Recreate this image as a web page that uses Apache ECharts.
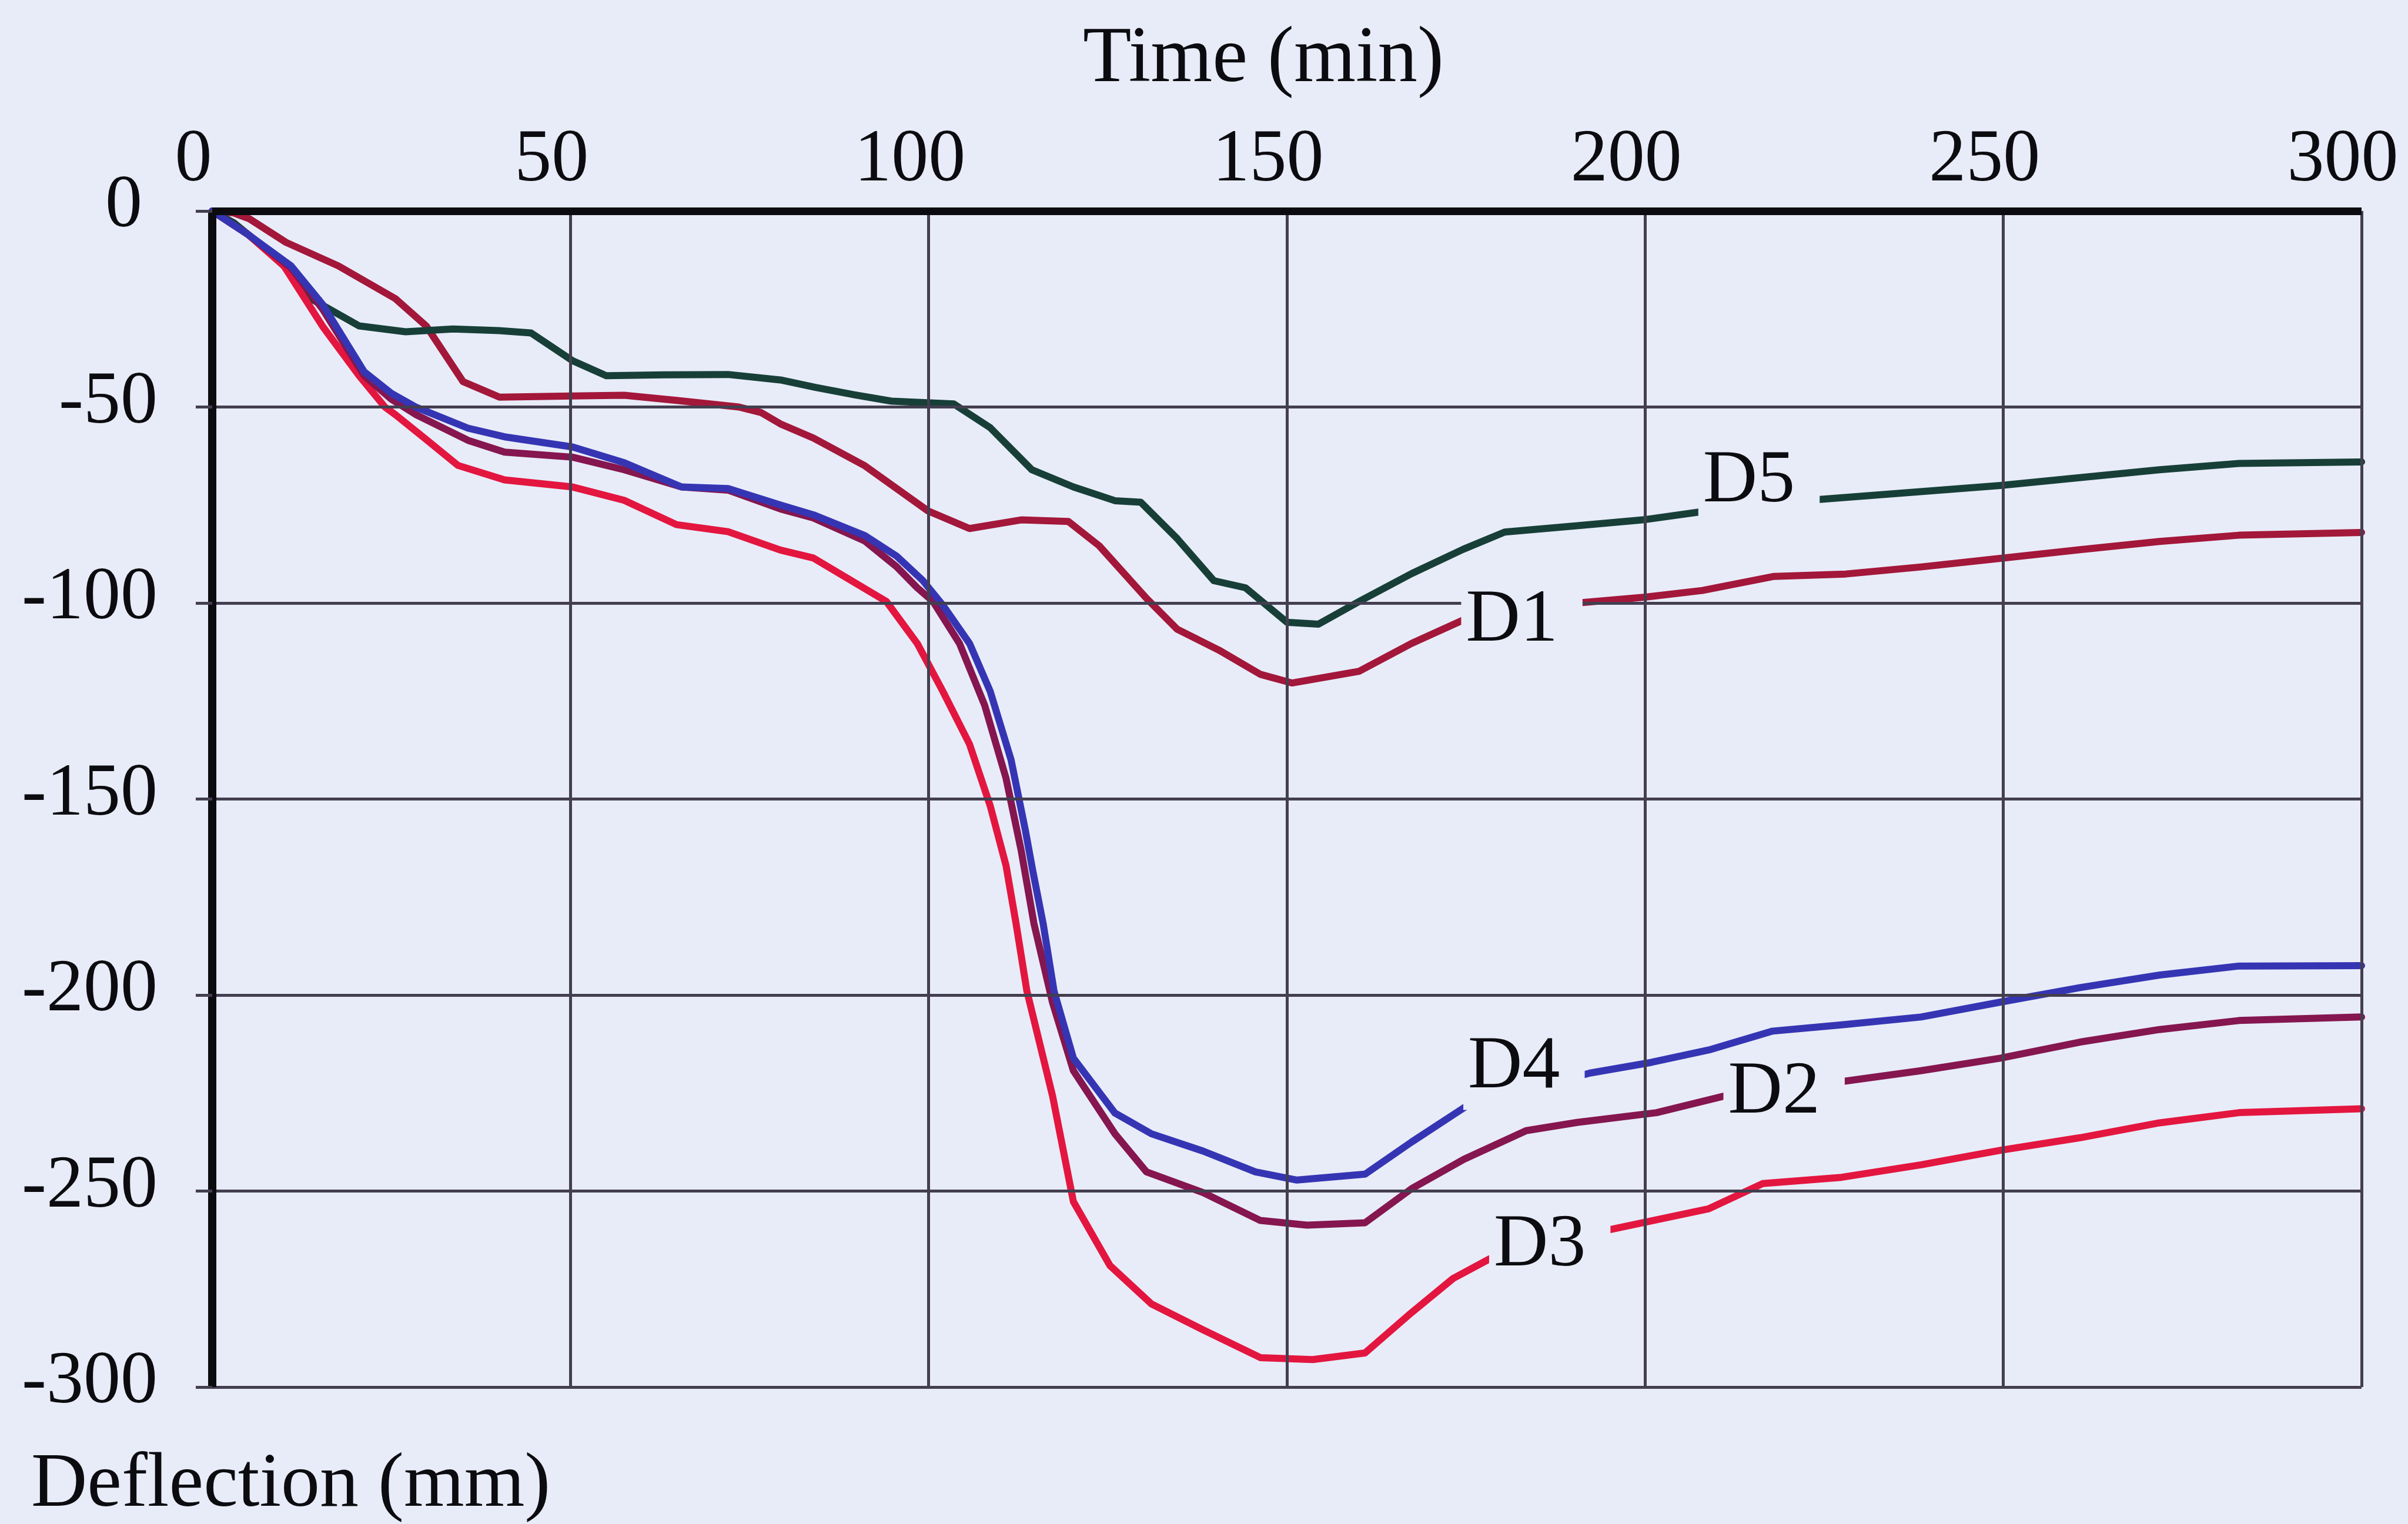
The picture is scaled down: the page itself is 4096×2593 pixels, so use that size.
<!DOCTYPE html>
<html>
<head>
<meta charset="utf-8">
<title>Deflection vs time</title>
<script src="https://cdn.jsdelivr.net/npm/echarts@6/dist/echarts.min.js"></script>
<style>
  html, body { margin: 0; padding: 0; background: #e8ecf8; }
  #chart { width: 4096px; height: 2593px; }
</style>
</head>
<body>
<div id="chart"></div>
<script>
// Measured mid-span deflections [time (min), deflection (mm)]
const D1 = [[0,0],[3,-0.5],[5.2,-2],[10.3,-8],[17.6,-14],[25.6,-22.4],[29.9,-29.4],[35,-43.5],[40.1,-47.5],[50.2,-47.2],[57.5,-47],[64.8,-48.3],[73.5,-50],[76.6,-51.4],[79.3,-54.3],[83.9,-57.9],[91.1,-65],[99.9,-76.5],[105.7,-81],[112.9,-78.8],[119.5,-79.2],[123.8,-85.4],[130.4,-98.8],[134.7,-106.7],[140.5,-112],[146.3,-118.2],[150.7,-120.4],[160.1,-117.4],[167.4,-110.3],[175,-104],[190.5,-100],[200,-98.5],[208,-96.8],[218,-93.2],[228,-92.6],[238.5,-90.8],[249.6,-88.6],[260.7,-86.4],[271.8,-84.3],[282.9,-82.7],[300,-82]];
const D2 = [[0,0],[5,-6],[11,-14.5],[15.4,-25],[21.2,-42],[25,-48],[28.5,-52],[35.7,-58.5],[40.8,-61.5],[50.3,-62.8],[57.5,-66],[65.5,-70.4],[72,-71.2],[79.3,-76],[83.9,-78.3],[91.1,-84.2],[95.5,-90.7],[98.4,-96.1],[100.6,-99.6],[104.3,-110.3],[107.8,-126],[110.8,-144.7],[112.9,-163],[114.7,-181.8],[117.3,-202],[120.2,-219.3],[126,-235.4],[130.4,-245.1],[138.3,-250.4],[146.3,-257.5],[152.8,-258.7],[160.9,-258.1],[167.4,-249.4],[174.7,-241.9],[183.4,-234.6],[190.5,-232.5],[201.6,-230],[211.2,-225.7],[228.2,-221.9],[238.5,-219.3],[249.6,-216.1],[260.7,-212],[271.8,-208.8],[282.9,-206.5],[300,-205.6]];
const D3 = [[0,0],[5,-6],[10,-14],[15.4,-29.4],[20.5,-42],[24.1,-50],[25.6,-52],[30,-58.5],[34.3,-64.9],[40.8,-68.6],[50.3,-70.4],[57.5,-73.8],[64.8,-80],[72,-81.8],[79.3,-86.5],[83.9,-88.5],[94.1,-99.6],[98.4,-110.3],[102,-122.6],[105.7,-136],[108.6,-151.8],[110.8,-167],[112.2,-181.8],[113.7,-198.9],[117.3,-225.8],[120.2,-252.7],[125.3,-269],[131.1,-278.8],[138.3,-285.4],[146.3,-292.5],[153.6,-293],[160.9,-291.3],[167.4,-281],[173.2,-272.3],[178.3,-267.3],[194.9,-259.9],[208.9,-254.5],[216.4,-248.1],[227.4,-246.5],[238.5,-243.3],[249.6,-239.6],[260.7,-236.4],[271.8,-232.6],[282.9,-230],[300,-229]];
const D4 = [[0,0],[5,-6],[11,-14],[15.4,-23.8],[21.2,-41],[25,-46.5],[28.5,-50.1],[35.7,-55.4],[40.8,-57.6],[50.3,-60.2],[57.5,-64.2],[65.5,-70.4],[72,-70.8],[79.3,-75],[83.9,-77.5],[91.1,-82.8],[95.5,-88],[99.2,-94.3],[102,-100.6],[105.7,-110.3],[108.6,-122.6],[111.5,-140],[113.5,-158],[114.5,-168],[116,-182],[117.5,-199],[120.2,-216.1],[126,-230.1],[131.1,-235.4],[138.3,-239.8],[145.6,-245.1],[151.4,-247.2],[160.9,-245.7],[167.4,-237.5],[175,-228.4],[192.3,-219.9],[200.8,-217.2],[208.9,-214],[217.8,-209.2],[227.4,-207.6],[238.5,-205.6],[249.6,-201.8],[260.7,-198.1],[271.8,-194.9],[282.9,-192.6],[300,-192.5]];
const D5 = [[0,0],[3,-3],[6.7,-8.5],[10,-14],[14,-22.6],[20.5,-29.3],[27,-30.8],[33.6,-30.1],[40,-30.5],[44.5,-31.1],[50.3,-38.2],[55,-42],[63,-41.8],[72,-41.7],[79.3,-43.1],[84.2,-45],[89.7,-46.9],[94.8,-48.5],[103.5,-49.2],[108.6,-55.3],[114.4,-66],[120.2,-70.4],[126,-73.9],[129.6,-74.3],[134.7,-83.6],[139.8,-94.3],[144.2,-96.1],[150,-104.9],[154.4,-105.4],[160.1,-99.6],[167.4,-92.5],[174.6,-86.3],[180.4,-81.9],[190.5,-80.3],[200.1,-78.7],[207.5,-76.8],[224.1,-73.6],[249.6,-70],[271.8,-66],[282.9,-64.4],[300,-64]];

// Curve names and where each name is written on its curve (time, deflection)
const curveNames = ['D1', 'D2', 'D3', 'D4', 'D5'];
const nameAnchors = [[181.4, -104.5], [218, -225], [185.3, -264], [181.7, -218.5], [214.5, -69]];

// Axis ranges
const timeRange = [0, 300, 50];
const deflRange = [-300, 0, 50];

const curves = { D1, D2, D3, D4, D5 };
const colors = { D1: '#a3173a', D2: '#85164f', D3: '#e3163f', D4: '#3535b4', D5: '#173f38' };
const drawOrder = ['D1', 'D5', 'D3', 'D2', 'D4'];

const PAGE = '#e8ecf8';
const INK = '#0c0c10';
const GRIDC = '#433e50';
const SERIF = '"Liberation Serif", "Times New Roman", serif';

const chart = echarts.init(document.getElementById('chart'), null, { renderer: 'canvas' });

const lineSeries = drawOrder.map(name => ({
  name,
  type: 'line',
  data: curves[name],
  symbol: 'none',
  showSymbol: false,
  smooth: false,
  z: 3,
  lineStyle: { color: colors[name], width: 12, join: 'round', cap: 'round', opacity: 1 },
  emphasis: { disabled: true }
}));

// Curve names sit on their curves; the page-coloured box opens a gap in the line
const nameSeries = {
  type: 'scatter',
  z: 6,
  silent: true,
  symbolSize: 0,
  itemStyle: { opacity: 1 },
  data: curveNames.map((n, i) => ({ name: n, value: nameAnchors[i] })),
  label: {
    show: true,
    position: 'inside',
    formatter: '{b}',
    fontFamily: SERIF,
    fontSize: 128,
    color: INK,
    opacity: 1,
    backgroundColor: PAGE,
    padding: [8, 42, 8, 8],
    offset: [17, 0]
  },
  emphasis: { disabled: true }
};

chart.setOption({
  backgroundColor: PAGE,
  animation: false,
  grid: { left: 361, right: 79, top: 359, bottom: 233, containLabel: false },
  xAxis: {
    type: 'value',
    position: 'top',
    min: timeRange[0], max: timeRange[1], interval: timeRange[2],
    z: 4,
    axisLine: { show: true, onZero: false, lineStyle: { color: INK, width: 13, cap: 'butt' } },
    axisTick: { show: false },
    splitLine: { show: true, lineStyle: { color: GRIDC, width: 5 } },
    axisLabel: {
      margin: 22, fontFamily: SERIF, fontSize: 126, color: INK,
      padding: [0, 64, 0, 0]
    }
  },
  yAxis: {
    type: 'value',
    min: deflRange[0], max: deflRange[1], interval: deflRange[2],
    z: 4,
    axisLine: { show: true, onZero: false, lineStyle: { color: INK, width: 14, cap: 'butt' } },
    axisTick: { show: true, inside: false, length: 28, lineStyle: { color: GRIDC, width: 5 } },
    splitLine: { show: true, lineStyle: { color: GRIDC, width: 5 } },
    axisLabel: {
      margin: 93, fontFamily: SERIF, fontSize: 126, color: INK,
      padding: [0, 0, 14, 0],
      formatter: v => (v === 0 ? '{z|0}' : String(v)),
      rich: { z: { fontFamily: SERIF, fontSize: 126, color: INK, padding: [0, 26, 0, 0] } }
    }
  },
  graphic: [
    {
      type: 'text', x: 2149, y: 103, silent: true,
      style: {
        text: 'Time (min)', fill: INK, font: '135px ' + SERIF,
        align: 'center', verticalAlign: 'middle', textAlign: 'center', textVerticalAlign: 'middle'
      }
    },
    {
      type: 'text', x: 53, y: 2527, silent: true,
      style: {
        text: 'Deflection (mm)', fill: INK, font: '132px ' + SERIF,
        align: 'left', verticalAlign: 'middle', textAlign: 'left', textVerticalAlign: 'middle'
      }
    }
  ],
  series: lineSeries.concat([nameSeries])
});
</script>
</body>
</html>
